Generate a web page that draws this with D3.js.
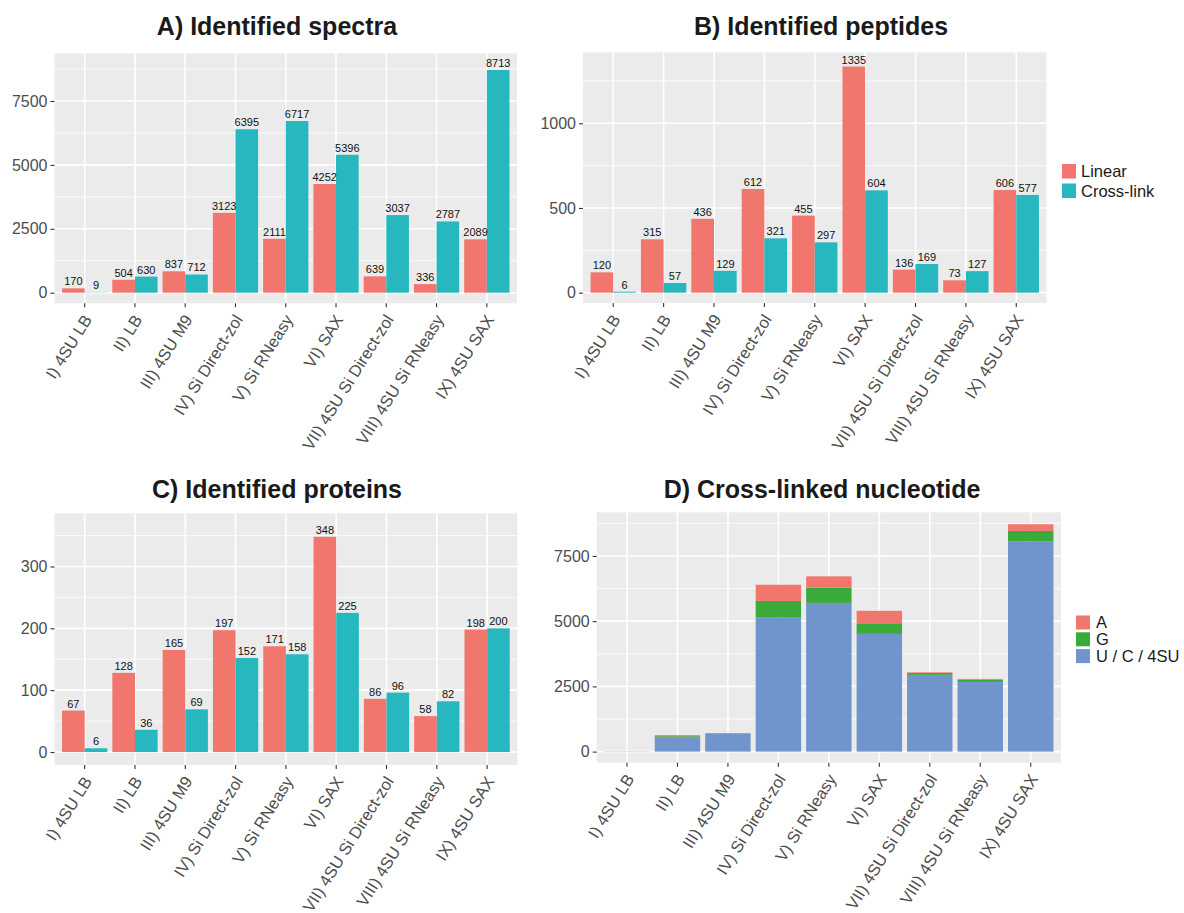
<!DOCTYPE html>
<html>
<head>
<meta charset="utf-8">
<script src="https://cdn.jsdelivr.net/npm/d3@7"></script>
<style>
  body { margin: 0; background: #fff; }
  text { font-family: "Liberation Sans", Arial, Helvetica, sans-serif; }
</style>
</head>
<body>
<svg id="chart" width="1184" height="913"></svg>
<script>
let categories = ["I) 4SU LB", "II) LB", "III) 4SU M9", "IV) Si Direct-zol", "V) Si RNeasy",
  "VI) SAX", "VII) 4SU Si Direct-zol", "VIII) 4SU Si RNeasy", "IX) 4SU SAX"];

let typeLabels = ["Linear", "Cross-link"];

let spectraLinear = [170, 504, 837, 3123, 2111, 4252, 639, 336, 2089];
let spectraCross = [9, 630, 712, 6395, 6717, 5396, 3037, 2787, 8713];

let peptidesLinear = [120, 315, 436, 612, 455, 1335, 136, 73, 606];
let peptidesCross = [6, 57, 129, 321, 297, 604, 169, 127, 577];

let proteinsLinear = [67, 128, 165, 197, 171, 348, 86, 58, 198];
let proteinsCross = [6, 36, 69, 152, 158, 225, 96, 82, 200];

// cross-linked nucleotide, stacked bottom to top: U/C/4SU, G, A
let nucleotideLabels = ["A", "G", "U / C / 4SU"];
let nucU = [9, 536, 680, 5137, 5700, 4511, 2940, 2670, 8064];
let nucG = [0, 54, 22, 639, 587, 409, 72, 85, 395];
let nucA = [0, 40, 10, 619, 430, 476, 25, 32, 254];

let ticksA = [0, 2500, 5000, 7500];
let ticksB = [0, 500, 1000];
let ticksC = [0, 100, 200, 300];

const colLinear = "#f0766e";
const colCross = "#27b7bf";
const nucColors = {"A": "#f0766e", "G": "#3aaa3a", "U / C / 4SU": "#7094cc"};

const svg = d3.select("#chart");
svg.append("rect").attr("width", 1184).attr("height", 913).attr("fill", "#fff");

const drawPanel = function(p){
  let g = svg.append("g");

  let x = d3.scaleBand().domain(categories)
    .range([p.left, p.right]).paddingInner(0.1).paddingOuter(0.15);
  let y = d3.scaleLinear().domain(p.domain).range([p.bottom, p.top]);

  g.append("rect")
    .attr("x", p.left).attr("y", p.top)
    .attr("width", p.right - p.left).attr("height", p.bottom - p.top)
    .attr("fill", "#ebebeb");

  // minor grid
  let minor = [];
  for(let i = 0; i < p.ticks.length; i++){
    let m = p.ticks[i] + (p.ticks[1] - p.ticks[0]) / 2;
    if(y(m) > p.top) minor.push(m);
  }
  g.selectAll(".minor").data(minor).enter().append("line")
    .attr("x1", p.left).attr("x2", p.right)
    .attr("y1", d => y(d)).attr("y2", d => y(d))
    .attr("stroke", "#fff").attr("stroke-width", 0.8);

  // major grid
  g.selectAll(".hmajor").data(p.ticks).enter().append("line")
    .attr("x1", p.left).attr("x2", p.right)
    .attr("y1", d => y(d)).attr("y2", d => y(d))
    .attr("stroke", "#fff").attr("stroke-width", 1.6);
  g.selectAll(".vmajor").data(categories).enter().append("line")
    .attr("x1", d => x(d) + x.bandwidth() / 2).attr("x2", d => x(d) + x.bandwidth() / 2)
    .attr("y1", p.top).attr("y2", p.bottom)
    .attr("stroke", "#fff").attr("stroke-width", 1.6);

  p.drawBars(g, x, y);

  // y axis
  let yAxis = d3.axisLeft(y).tickValues(p.ticks).tickFormat(d3.format("d"))
    .tickSize(4).tickPadding(3);
  let ya = g.append("g").attr("transform", `translate(${p.left},0)`).call(yAxis);
  ya.select(".domain").remove();
  ya.selectAll(".tick line").attr("stroke", "#333").attr("stroke-width", 1.1);
  ya.selectAll(".tick text").attr("fill", "#4d4d4d").style("font-size", "16px");

  // x axis
  let xAxis = d3.axisBottom(x).tickSize(4).tickPadding(0);
  let xa = g.append("g").attr("transform", `translate(0,${p.bottom})`).call(xAxis);
  xa.select(".domain").remove();
  xa.selectAll(".tick line").attr("stroke", "#333").attr("stroke-width", 1.1);
  xa.selectAll(".tick text")
    .attr("fill", "#4d4d4d").style("font-size", "16.5px")
    .attr("text-anchor", "end")
    .attr("x", 0).attr("y", 0).attr("dy", "0.35em")
    .attr("transform", "translate(3,13) rotate(-58)");

  // title
  g.append("text")
    .attr("x", p.titleX).attr("y", p.titleY)
    .attr("text-anchor", "middle")
    .style("font-size", "25px").style("font-weight", "bold")
    .attr("fill", "#1a1a1a")
    .text(p.title);

  return g;
};

const dodgedBars = function(linear, cross){
  return function(g, x, y){
    let x1 = d3.scaleBand().domain(typeLabels).range([0, x.bandwidth()]);
    let rows = [];
    categories.forEach(function(c, i){
      rows.push({cat: c, type: "Linear", value: linear[i]});
      rows.push({cat: c, type: "Cross-link", value: cross[i]});
    });
    g.selectAll(".bar").data(rows).enter().append("rect")
      .attr("x", d => x(d.cat) + x1(d.type))
      .attr("width", x1.bandwidth())
      .attr("y", d => y(d.value))
      .attr("height", d => y(0) - y(d.value))
      .attr("fill", d => d.type == "Linear" ? colLinear : colCross);
    g.selectAll(".lab").data(rows).enter().append("text")
      .attr("x", d => x(d.cat) + x1(d.type) + x1.bandwidth() / 2)
      .attr("y", d => y(d.value) - 3)
      .attr("text-anchor", "middle")
      .style("font-size", "11px")
      .attr("fill", "#111")
      .text(d => d.value);
  };
};

const stackedBars = function(g, x, y){
  let rows = categories.map(function(c, i){
    return {cat: c, "U / C / 4SU": nucU[i], "G": nucG[i], "A": nucA[i]};
  });
  let series = d3.stack().keys(["U / C / 4SU", "G", "A"])(rows);
  g.selectAll(".layer").data(series).enter().append("g")
    .attr("fill", d => nucColors[d.key])
    .selectAll("rect").data(d => d).enter().append("rect")
    .attr("x", d => x(d.data.cat))
    .attr("width", x.bandwidth())
    .attr("y", d => y(d[1]))
    .attr("height", d => Math.max(0, y(d[0]) - y(d[1])));
};

const drawLegend = function(items, colors, left, top, pitch, keyW, keyH, textX){
  let lg = svg.append("g");
  items.forEach(function(name, i){
    lg.append("rect")
      .attr("x", left).attr("y", top + i * pitch)
      .attr("width", keyW).attr("height", keyH)
      .attr("fill", colors[i]);
    lg.append("text")
      .attr("x", textX).attr("y", top + i * pitch + keyH / 2)
      .attr("dy", "0.36em")
      .style("font-size", "16.5px")
      .attr("fill", "#1a1a1a")
      .text(name);
  });
};

drawPanel({
  left: 54.5, right: 517, top: 53.3, bottom: 303.3,
  domain: [-415, 9366], ticks: ticksA,
  title: "A) Identified spectra", titleX: 277, titleY: 35,
  drawBars: dodgedBars(spectraLinear, spectraCross)
});

drawPanel({
  left: 583, right: 1046.5, top: 52.3, bottom: 303,
  domain: [-61, 1419], ticks: ticksB,
  title: "B) Identified peptides", titleX: 821, titleY: 35,
  drawBars: dodgedBars(peptidesLinear, peptidesCross)
});

drawPanel({
  left: 54.5, right: 517.3, top: 513.3, bottom: 765,
  domain: [-21, 386], ticks: ticksC,
  title: "C) Identified proteins", titleX: 277, titleY: 498,
  drawBars: dodgedBars(proteinsLinear, proteinsCross)
});

drawPanel({
  left: 596.7, right: 1061, top: 512.3, bottom: 762.7,
  domain: [-425, 9172], ticks: ticksA,
  title: "D) Cross-linked nucleotide", titleX: 822, titleY: 498,
  drawBars: stackedBars
});

drawLegend(typeLabels, [colLinear, colCross], 1062, 164, 19.5, 14, 14.5, 1081);
drawLegend(nucleotideLabels, nucleotideLabels.map(k => nucColors[k]), 1076, 615.5, 16.8, 14, 14, 1096);
</script>
</body>
</html>
